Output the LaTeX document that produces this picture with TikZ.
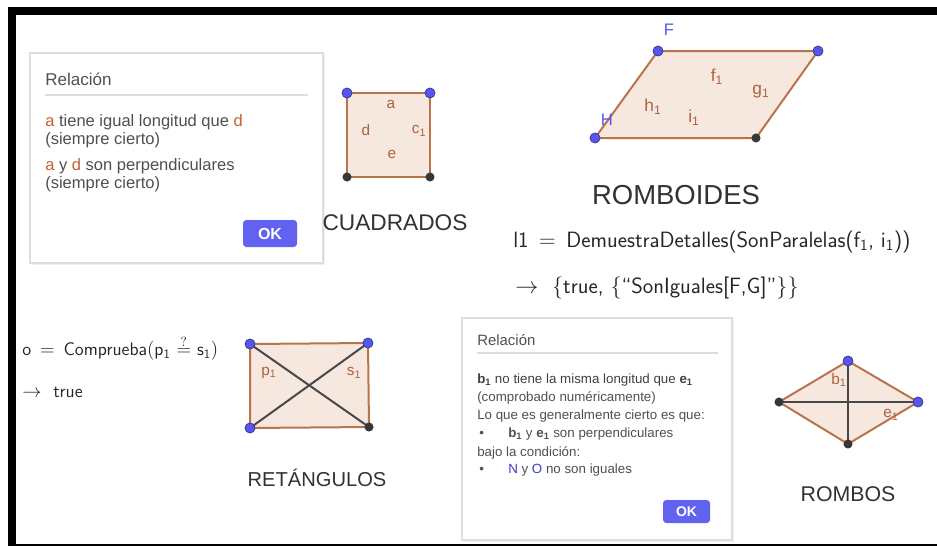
\documentclass[tikz,border=0pt]{standalone}
\usepackage{fontspec}
\setmainfont{Liberation Sans}
\usepackage{tikz}
\usetikzlibrary{positioning}
\definecolor{ggedge}{RGB}{186,116,76}
\definecolor{ggfill}{RGB}{246,231,223}
\definecolor{gglabel}{RGB}{170,100,62}
\definecolor{ggblue}{RGB}{86,86,236}
\definecolor{ggdark}{RGB}{55,55,55}
\definecolor{ggline}{RGB}{72,72,72}
\definecolor{okblue}{RGB}{98,98,240}
\definecolor{boxline}{RGB}{222,222,222}
\definecolor{boxtext}{RGB}{80,80,80}
\definecolor{objcol}{RGB}{196,96,52}
\definecolor{ptcol}{RGB}{60,60,205}
\definecolor{namecol}{RGB}{50,50,50}
\newcommand{\ggsub}[1]{\textsubscript{#1}}

\begin{document}
\begin{tikzpicture}[
  x=0.75pt, y=-0.75pt,
  font=\fontsize{12.4}{14}\selectfont,
  dialog/.style={draw=boxline, fill=white, line width=0.8pt},
  sepline/.style={draw=boxline, line width=0.8pt},
  dlgtitle/.style={anchor=west, inner sep=0pt, text=boxtext},
  dlgtext/.style={anchor=west, inner sep=0pt, text=boxtext},
  okbtn/.style={fill=okblue, rounded corners=2.5pt, text=white, inner sep=0pt, font=\bfseries\fontsize{12}{14}\selectfont},
  poly/.style={draw=ggedge, fill=ggfill, line width=1.5pt, line join=round},
  diag/.style={draw=ggline, line width=1.5pt},
  lbl/.style={text=gglabel, inner sep=0pt, font=\fontsize{11.5}{13}\selectfont},
  ptname/.style={text=ggblue, inner sep=0pt, font=\fontsize{12.5}{14}\selectfont},
  bluept/.style={fill=ggblue, draw=ggblue!60!black, line width=0.5pt},
  darkpt/.style={fill=ggdark},
  shapename/.style={text=namecol, inner sep=0pt},
  formula/.style={anchor=west, inner sep=0pt, text=black!85, font=\sffamily\fontsize{16.6}{18}\selectfont}
]
\useasboundingbox (0,0) rectangle (937,546);
\fill[white] (0,0) rectangle (937,546);
\fill[black] (8,7) rectangle (937,15);
\fill[black] (8,7) rectangle (16,546);
\draw[black, line width=1.1pt] (8,545) -- (937,545);

\fill[black!6] (31,55) rectangle (325,265);
\draw[dialog] (30,53) rectangle (323,263);
\node[dlgtitle, font=\fontsize{12.8}{14}\selectfont] (relA) at (45,79) {Relación};
\draw[sepline] (45,95) -- (308,95);
\node[dlgtext] (txA1) at (45,122) {\textcolor{objcol}{a} tiene igual longitud que \textcolor{objcol}{d}};
\node[dlgtext] (txA2) at (45,140) {(siempre cierto)};
\node[dlgtext] (txA3) at (45,166) {\textcolor{objcol}{a} y \textcolor{objcol}{d} son perpendiculares};
\node[dlgtext] (txA4) at (45,184) {(siempre cierto)};
\node[okbtn, minimum width=40.5pt, minimum height=20.25pt] (okA) at (270,233.5) {OK};

\coordinate (sqA) at (347,93);
\coordinate (sqB) at (430,93);
\coordinate (sqC) at (430,177);
\coordinate (sqD) at (347,177);
\draw[poly] (sqA) -- (sqB) -- (sqC) -- (sqD) -- cycle;
\node[lbl] (la) at (391,104) {a};
\node[lbl] (ld) at (366,130) {d};
\node[lbl] (lc) at (419,131) {c\ggsub{1}};
\node[lbl] (le) at (392,154) {e};
\node[shapename, font=\fontsize{17}{19}\selectfont] (cuad) at (395,223) {CUADRADOS};

\coordinate (F) at (658,51);
\coordinate (G) at (818,51);
\coordinate (rbC) at (756,138);
\coordinate (H) at (595,138);
\draw[poly] (F) -- (G) -- (rbC) -- (H) -- cycle;
\node[ptname] (nF) at (669,30) {F};
\node[ptname] (nH) at (607,120) {H};
\begin{scope}[lbl/.append style={font=\fontsize{13}{15}\selectfont}]
\node[lbl] (lf) at (717,77) {f\ggsub{1}};
\node[lbl] (lg) at (761,92) {g\ggsub{1}};
\node[lbl] (lh) at (653,107) {h\ggsub{1}};
\node[lbl] (li) at (694,118) {i\ggsub{1}};
\end{scope}
\node[shapename, font=\fontsize{20.6}{23}\selectfont] (romb) at (676,195) {ROMBOIDES};

\node[formula] (fmA) at (513,242) {l1 \,$=$\, DemuestraDetalles(SonParalelas(f\ggsub{1}, i\ggsub{1}))};
\node[formula] (fmB) at (515,288) {$\rightarrow$\ \ \{true, \{“SonIguales[F,G]”\}\}};

\node[formula, font=\sffamily\fontsize{13.6}{15}\selectfont] (fmC) at (22,348) {o \,$=$\, Comprueba$\Big($p\ggsub{1} $\stackrel{?}{=}$ s\ggsub{1}$\Big)$};
\node[formula, font=\sffamily\fontsize{13.6}{15}\selectfont] (fmD) at (22,392) {$\rightarrow$\ \ true};

\coordinate (reA) at (250,344);
\coordinate (reB) at (368,343);
\coordinate (reC) at (369,427);
\coordinate (reD) at (250,428);
\draw[poly] (reA) -- (reB) -- (reC) -- (reD) -- cycle;
\draw[diag] (reA) -- (reC);
\draw[diag] (reB) -- (reD);
\node[lbl] (lp) at (269,373) {p\ggsub{1}};
\node[lbl] (ls) at (354,373) {s\ggsub{1}};
\node[shapename, font=\fontsize{15.1}{17}\selectfont] (reta) at (317,478) {RETÁNGULOS};

\fill[black!6] (463,320) rectangle (734,542);
\draw[dialog] (462,318) rectangle (732,540);
\node[dlgtitle, font=\fontsize{11.2}{13}\selectfont] (relB) at (477,340) {Relación};
\draw[sepline] (477,353) -- (718,353);
\begin{scope}[font=\fontsize{10}{12}\selectfont]
\node[dlgtext, text=black!75] (txB1) at (477,380) {\textbf{b\ggsub{1}} no tiene la misma longitud que \textbf{e\ggsub{1}}};
\node[dlgtext] (txB2) at (477,398) {(comprobado numéricamente)};
\node[dlgtext] (txB3) at (477,416) {Lo que es generalmente cierto es que:};
\node[dlgtext] (bulB1) at (479,434) {•};
\node[dlgtext] (txB4) at (508,434) {\textbf{b\ggsub{1}} y \textbf{e\ggsub{1}} son perpendiculares};
\node[dlgtext] (txB5) at (477,453) {bajo la condición:};
\node[dlgtext] (bulB2) at (479,470) {•};
\node[dlgtext] (txB6) at (508,470) {\textcolor{ptcol}{N} y \textcolor{ptcol}{O} no son iguales};
\end{scope}
\node[okbtn, minimum width=35.25pt, minimum height=17.25pt, font=\bfseries\fontsize{10.5}{12}\selectfont] (okB) at (686.5,511.5) {OK};

\coordinate (roA) at (848,361);
\coordinate (roB) at (918,402);
\coordinate (roC) at (848,444);
\coordinate (roD) at (779,402);
\draw[poly] (roA) -- (roB) -- (roC) -- (roD) -- cycle;
\draw[diag] (roD) -- (roB);
\draw[diag] (roA) -- (roC);
\node[lbl] (lb) at (839,380) {b\ggsub{1}};
\node[lbl] (lee) at (891,415) {e\ggsub{1}};
\node[shapename, font=\fontsize{16}{18}\selectfont] (romo) at (848,494) {ROMBOS};

\foreach \p in {sqA,sqB,F,G,H,reA,reB,reD,roA,roB}
  \draw[bluept] (\p) circle[radius=3.8pt];
\foreach \p in {sqC,sqD,rbC,reC,roC,roD}
  \fill[darkpt] (\p) circle[radius=3.4pt];
\end{tikzpicture}
\end{document}
